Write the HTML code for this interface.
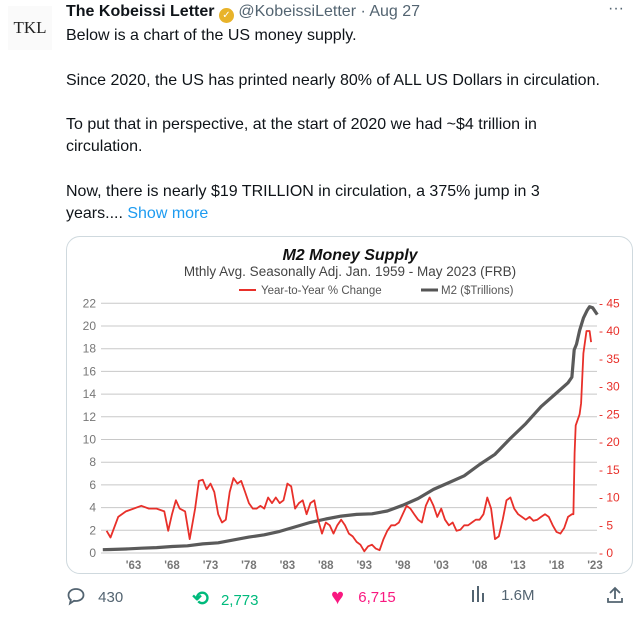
<!DOCTYPE html>
<html><head><meta charset="utf-8"><style>
body{margin:0;width:639px;height:631px;background:#fff;font-family:"Liberation Sans",sans-serif;position:relative;overflow:hidden;color:#0f1419}
.abs{position:absolute}
.txt{left:66px;font-size:16px;line-height:22.3px;color:#0f1419}
</style></head><body>
<div class="abs" style="left:8px;top:6px;width:44px;height:44px;background:#fafafa;font-family:'Liberation Serif',serif;font-size:17px;text-align:center;line-height:44px;color:#222">TKL</div>
<div class="abs" style="left:66px;top:3px;font-size:16px;white-space:nowrap">
<b>The Kobeissi Letter</b> <span style="display:inline-block;width:15px;height:15px;border-radius:50%;background:#e8b32a;color:#fff;font-size:10px;text-align:center;line-height:15px;vertical-align:-2px">✓</span> <span style="color:#536471">@KobeissiLetter · Aug 27</span></div>
<div class="abs" style="left:608px;top:0px;color:#536471;font-size:16px">···</div>
<div class="abs txt" style="top:25px;width:548px">Below is a chart of the US money supply.<br><br>Since 2020, the US has printed nearly 80% of ALL US Dollars in circulation.<br><br>To put that in perspective, at the start of 2020 we had ~$4 trillion in circulation.<br><br>Now, there is nearly $19 TRILLION in circulation, a 375% jump in 3 <span style="white-space:nowrap">years.... <span style="color:#1d9bf0">Show more</span></span></div>
<div class="abs" style="left:66px;top:236px;width:565px;height:336px;border:1px solid #cfd9de;border-radius:14px;overflow:hidden">
<svg id="chart" width="565" height="336" style="position:absolute;left:-66px;top:-236px;overflow:visible" viewBox="0 0 565 336"></svg>
</div>
<div class="abs" style="left:66px;top:586px;color:#536471;font-size:15px"><svg width="20" height="20" viewBox="0 0 20 20" style="vertical-align:-4px"><path d="M10 3c4.5 0 7.5 2.7 7.5 6s-3 6-7.5 6c-.7 0-1.4-.1-2-.2L4 17.5l.8-3.6C3.3 12.8 2.5 11 2.5 9c0-3.3 3-6 7.5-6z" fill="none" stroke="#536471" stroke-width="1.8"/></svg> <span style="margin-left:8px">430</span></div>
<div class="abs" style="left:192px;top:586px;color:#00ba7c;font-size:15px"><span style="font-size:20px;font-weight:bold">⟲</span> <span style="margin-left:8px">2,773</span></div>
<div class="abs" style="left:331px;top:584px;color:#f91880;font-size:15px"><span style="font-size:22px">♥</span> <span style="margin-left:10px;vertical-align:2px">6,715</span></div>
<div class="abs" style="left:471px;top:586px;color:#536471;font-size:15px"><svg width="14" height="16" style="vertical-align:-2px"><rect x="1" y="4" width="2" height="12" fill="#536471"/><rect x="6" y="0" width="2" height="16" fill="#536471"/><rect x="11" y="7" width="2" height="9" fill="#536471"/></svg> <span style="margin-left:12px">1.6M</span></div>
<div class="abs" style="left:606px;top:586px"><svg width="18" height="18"><path d="M9 2v11M4 7l5-5 5 5M2 12v4h14v-4" fill="none" stroke="#536471" stroke-width="1.8"/></svg></div>
<script>
const years=[1959,1960,1962,1964,1966,1968,1970,1972,1974,1976,1978,1980,1982,1984,1986,1988,1990,1992,1994,1996,1998,2000,2002,2004,2006,2008,2010,2012,2014,2016,2018,2019.5,2020,2020.3,2020.6,2021,2021.5,2022,2022.3,2022.7,2023.3];
const m2=[0.29,0.31,0.35,0.42,0.48,0.57,0.63,0.8,0.9,1.15,1.4,1.6,1.9,2.3,2.7,3.0,3.25,3.4,3.45,3.7,4.2,4.8,5.6,6.2,6.8,7.8,8.7,10.1,11.4,12.9,14.1,15.0,15.5,17.9,18.4,19.6,20.7,21.4,21.7,21.6,21.0];
const yoyYears=[1959.5,1960,1961,1962,1963,1964,1965,1966,1967,1967.5,1968,1968.5,1969,1969.7,1970.3,1971,1971.5,1972,1972.5,1973,1973.5,1974,1974.5,1975,1975.5,1976,1976.5,1977,1977.5,1978,1978.5,1979,1979.5,1980,1980.5,1981,1981.5,1982,1982.5,1983,1983.5,1984,1984.5,1985,1985.5,1986,1986.5,1987,1987.5,1988,1988.5,1989,1989.5,1990,1990.5,1991,1991.5,1992,1992.5,1993,1993.5,1994,1994.5,1995,1995.5,1996,1996.5,1997,1997.5,1998,1998.5,1999,1999.5,2000,2000.5,2001,2001.5,2002,2002.5,2003,2003.5,2004,2004.5,2005,2005.5,2006,2006.5,2007,2007.5,2008,2008.5,2009,2009.5,2010,2010.5,2011,2011.5,2012,2012.5,2013,2013.5,2014,2014.5,2015,2015.5,2016,2016.5,2017,2017.5,2018,2018.5,2019,2019.5,2020,2020.2,2020.35,2020.5,2021,2021.2,2021.5,2021.9,2022.3,2022.5];
const yoy=[4,2.8,6.5,7.5,8,8.5,8,8,7.5,4,7,9.5,8,7.5,2.5,8,13,13.2,11.5,12.5,11,7,5.5,6,11,13.5,12.5,13,11,9,8,8,8.5,8,10,9,10,9,9.5,12.5,12,8,9,9.5,7,9,9.5,6,3.5,5.5,5,3.5,5,6,5,3.5,3,2,1.5,0.3,1.2,1.5,0.8,0.5,2.5,4,5,5,5.5,7,8.5,8,7,6,5.5,8.5,10,8.5,6.5,8,6,5,5.5,4,4.2,5,5,5.5,6,6,7,10,8,2.5,3,6,9.5,10,8,7,6.5,6,6.5,5.8,6,6.5,7,6.5,5,3.8,3.5,4.5,6.5,7,7,18,23,25,27,36,40,40,38];
const leftTicks=[0,2,4,6,8,10,12,14,16,18,20,22];
const rightTicks=[0,5,10,15,20,25,30,35,40,45];
const xTicks=["'63","'68","'73","'78","'83","'88","'93","'98","'03","'08","'13","'18","'23"];
const X0=101.8,PX=7.69,Y0=552,Y1=302.3,L=100,R=596;
const xs=y=>X0+(y-1959)*PX;
const yl=v=>Y0-(v/22)*(Y0-Y1);
const yr=v=>Y0-(v/45)*(Y0-Y1);
const svg=document.getElementById('chart');
const NS='http://www.w3.org/2000/svg';
function mk(t,a,txt){const e=document.createElementNS(NS,t);for(const k in a)e.setAttribute(k,a[k]);if(txt!=null)e.textContent=txt;svg.appendChild(e);return e;}
let e;
e=mk('text',{x:349,y:259,'text-anchor':'middle','font-size':16,'font-weight':'bold','font-style':'italic',fill:'#111'},'M2 Money Supply');


e=mk('text',{x:349,y:275,'text-anchor':'middle','font-size':13.5,fill:'#444'},'Mthly Avg. Seasonally Adj. Jan. 1959 - May 2023  (FRB)');


e=mk('line',{x1:238,x2:255,y1:289,y2:289,stroke:'#e8302a','stroke-width':2});


e=mk('text',{x:260,y:293,'font-size':11.5,fill:'#555'},'Year-to-Year % Change');


e=mk('line',{x1:420,x2:437,y1:289,y2:289,stroke:'#555','stroke-width':3});


e=mk('text',{x:440,y:293,'font-size':11.5,fill:'#555'},'M2 ($Trillions)');


leftTicks.forEach(v=>{
 e=mk('line',{x1:L,x2:R,y1:yl(v),y2:yl(v),stroke:'#c8c8c8','stroke-width':1});
 
 
 e=mk('text',{x:95,y:yl(v)+4,'text-anchor':'end','font-size':12,fill:'#777'},String(v));
 
 
});
rightTicks.forEach(v=>{
 e=mk('text',{x:598,y:yr(v)+4,'font-size':12,fill:'#e8302a'},'- '+v);
 
 
});
xTicks.forEach((t,i)=>{
 e=mk('text',{x:xs(1963+5*i),y:568,'text-anchor':'middle','font-size':11.5,'font-weight':'bold',fill:'#777'},t);
 
 
});
e=mk('path',{d:years.map((y,i)=>(i?'L':'M')+xs(y).toFixed(1)+','+yl(m2[i]).toFixed(1)).join(''),fill:'none',stroke:'#5a5a5a','stroke-width':3.2,'stroke-linejoin':'round'});


e=mk('path',{d:yoyYears.map((y,i)=>(i?'L':'M')+xs(y).toFixed(1)+','+yr(yoy[i]).toFixed(1)).join(''),fill:'none',stroke:'#e8302a','stroke-width':1.8,'stroke-linejoin':'round'});


</script>
</body></html>
